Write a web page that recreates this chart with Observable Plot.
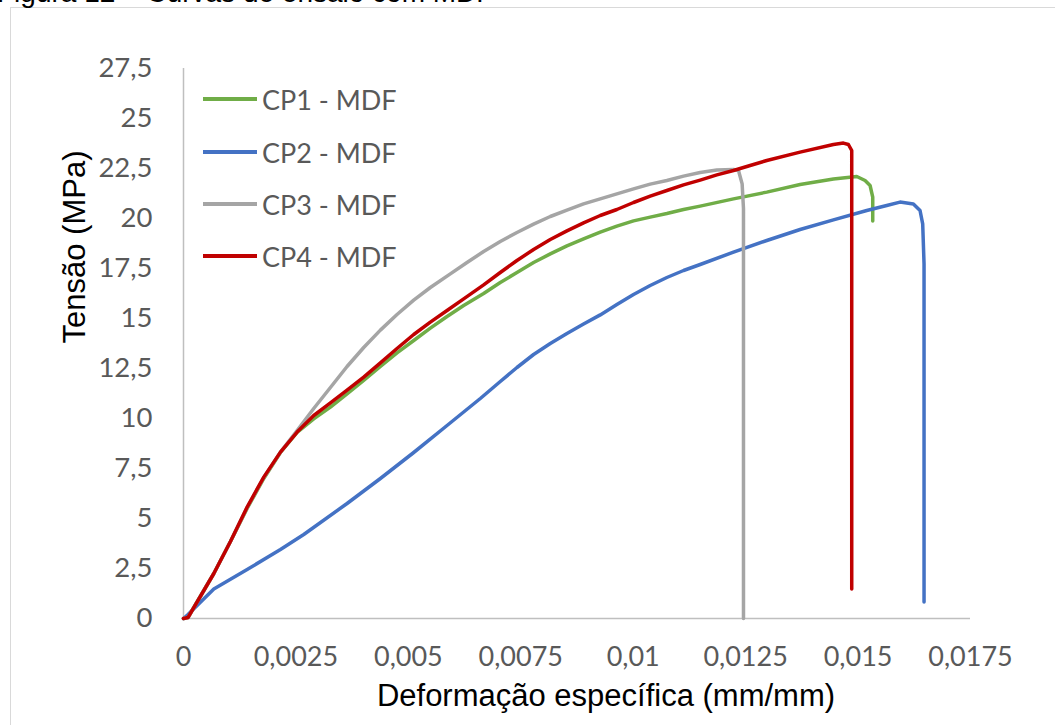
<!DOCTYPE html>
<html>
<head>
<meta charset="utf-8">
<script src="https://cdn.jsdelivr.net/npm/d3@7"></script>
<script src="https://cdn.jsdelivr.net/npm/@observablehq/plot@0.6"></script>
<style>
  html, body { margin: 0; padding: 0; background: #fff; }
  #wrap { position: relative; width: 1055px; height: 725px; overflow: hidden; background: #fff; }
  #title { position: absolute; left: -3px; top: -21px; font-family: "Liberation Sans", Arial, sans-serif; font-size: 28px; line-height: 28px; color: #000; white-space: nowrap; }
  #border { position: absolute; left: 10px; top: 7px; width: 1100px; height: 800px; border: 1.5px solid #d9d9d9; box-sizing: border-box; }
  #chart { position: absolute; left: 0; top: 0; }
  #legend { position: absolute; left: 203px; top: 0; font-family: Lato, "Open Sans", sans-serif; font-size: 27px; color: #595959; }
  .item { position: absolute; left: 0; display: flex; align-items: center; white-space: nowrap; height: 30px; }
  .swatch { width: 54px; height: 3.5px; margin-right: 5px; }
</style>
</head>
<body>
<div id="wrap">
  <div id="border"></div>
  <div id="title">Figura 12 – Curvas de ensaio com MDF</div>
  <div id="chart"></div>
  <div id="legend"></div>
</div>
<script>
// ---- Data ----
const seriesNames = ["CP1 - MDF", "CP2 - MDF", "CP3 - MDF", "CP4 - MDF"];
const seriesColors = ["#70ad47", "#4472c4", "#a5a5a5", "#c00000"];

const xTicks = [0, 0.0025, 0.005, 0.0075, 0.01, 0.0125, 0.015, 0.0175];
const yTicks = [0, 2.5, 5, 7.5, 10, 12.5, 15, 17.5, 20, 22.5, 25, 27.5];

// CP1 - MDF (green)
const cp1Strain = [0, 0.0001, 0.000674, 0.001044, 0.001415, 0.001785, 0.002156, 0.002526, 0.002896, 0.003267, 0.003637, 0.004007, 0.004378, 0.004748, 0.005119, 0.005489, 0.00586, 0.00623, 0.006674, 0.007044, 0.007415, 0.007785, 0.008156, 0.008526, 0.008896, 0.009267, 0.009637, 0.010007, 0.010378, 0.010748, 0.011119, 0.011489, 0.01223, 0.01297, 0.013711, 0.014452, 0.014971, 0.015156, 0.015267, 0.015326, 0.015326];
const cp1Stress = [0, 0.05, 2.25, 3.85, 5.5, 7.0, 8.3, 9.3, 9.98, 10.57, 11.23, 11.9, 12.6, 13.28, 13.9, 14.52, 15.1, 15.65, 16.25, 16.8, 17.3, 17.8, 18.23, 18.63, 18.98, 19.32, 19.62, 19.88, 20.07, 20.25, 20.45, 20.62, 20.98, 21.32, 21.7, 21.98, 22.1, 21.9, 21.65, 21.07, 19.87];

// CP2 - MDF (blue)
const cp2Strain = [0, 0.0001, 0.000674, 0.001415, 0.002156, 0.002674, 0.003637, 0.004378, 0.005119, 0.00586, 0.0066, 0.007044, 0.007415, 0.007785, 0.008156, 0.008526, 0.008896, 0.009267, 0.009637, 0.010007, 0.010378, 0.010748, 0.011119, 0.011489, 0.01223, 0.01297, 0.013711, 0.014452, 0.015193, 0.015637, 0.015933, 0.01623, 0.016378, 0.016437, 0.016467, 0.016467];
const cp2Stress = [0, 0.2, 1.48, 2.45, 3.45, 4.2, 5.75, 7.0, 8.3, 9.65, 11.0, 11.85, 12.55, 13.2, 13.75, 14.25, 14.72, 15.18, 15.7, 16.2, 16.65, 17.05, 17.4, 17.7, 18.32, 18.9, 19.45, 19.93, 20.4, 20.65, 20.82, 20.73, 20.4, 19.73, 17.73, 0.82];

// CP3 - MDF (gray)
const cp3Strain = [0, 0.0001, 0.000674, 0.001044, 0.001415, 0.001785, 0.002156, 0.002526, 0.002896, 0.003267, 0.003637, 0.004007, 0.004378, 0.004748, 0.005119, 0.005489, 0.005933, 0.006304, 0.006674, 0.007044, 0.007415, 0.007785, 0.008156, 0.008526, 0.008896, 0.009267, 0.009637, 0.010007, 0.010378, 0.010748, 0.011119, 0.011489, 0.01186, 0.01223, 0.012341, 0.012422, 0.012452, 0.012452];
const cp3Stress = [0, 0.05, 2.25, 3.85, 5.55, 7.05, 8.32, 9.4, 10.5, 11.55, 12.6, 13.55, 14.42, 15.2, 15.92, 16.55, 17.23, 17.8, 18.35, 18.85, 19.3, 19.72, 20.1, 20.42, 20.73, 20.98, 21.23, 21.48, 21.72, 21.9, 22.12, 22.3, 22.42, 22.45, 22.4, 21.73, 20.5, 0];

// CP4 - MDF (red)
const cp4Strain = [0, 0.0001, 0.000674, 0.001044, 0.001415, 0.001785, 0.002156, 0.002526, 0.002896, 0.003267, 0.003637, 0.004007, 0.004378, 0.004748, 0.005119, 0.005489, 0.00586, 0.00623, 0.006674, 0.007044, 0.007415, 0.007785, 0.008156, 0.008526, 0.008896, 0.009267, 0.009637, 0.010007, 0.010378, 0.010748, 0.011119, 0.011489, 0.01186, 0.01223, 0.0126, 0.01297, 0.013711, 0.014452, 0.014674, 0.014785, 0.014859, 0.014859];
const cp4Stress = [0, 0.05, 2.25, 3.85, 5.57, 7.07, 8.32, 9.32, 10.15, 10.78, 11.42, 12.07, 12.78, 13.5, 14.2, 14.82, 15.4, 15.98, 16.68, 17.3, 17.9, 18.45, 18.95, 19.38, 19.78, 20.15, 20.45, 20.8, 21.12, 21.4, 21.68, 21.92, 22.18, 22.4, 22.65, 22.9, 23.32, 23.7, 23.77, 23.7, 23.4, 1.48];

// ---- Build long table ----
const strains = [cp1Strain, cp2Strain, cp3Strain, cp4Strain];
const stresses = [cp1Stress, cp2Stress, cp3Stress, cp4Stress];
const rows = [];
seriesNames.forEach((name, i) => {
  strains[i].forEach((x, j) => rows.push({series: name, x, y: stresses[i][j]}));
});

const fmt = d => String(d).replace(".", ",");
const tickFont = "Lato, 'Open Sans', sans-serif";
const labelFont = "'Liberation Sans', Arial, sans-serif";

const chart = Plot.plot({
  width: 1055,
  height: 725,
  marginLeft: 183,
  marginRight: 85,
  marginTop: 68,
  marginBottom: 107,
  style: {background: "transparent", overflow: "visible"},
  x: {domain: [0, 0.0175]},
  y: {domain: [0, 27.5]},
  color: {domain: seriesNames, range: seriesColors},
  marks: [
    Plot.ruleX([0], {stroke: "#bfbfbf", strokeWidth: 1.5}),
    Plot.ruleY([0], {stroke: "#bfbfbf", strokeWidth: 1.5}),
    Plot.axisX({ticks: xTicks, tickFormat: fmt, tickSize: 0, tickPadding: 28, label: null,
      fontSize: 27, fontFamily: tickFont, fill: "#595959"}),
    Plot.axisY({ticks: yTicks, tickFormat: fmt, tickSize: 0, tickPadding: 31, label: null,
      fontSize: 27.5, fontFamily: tickFont, fill: "#595959"}),
    Plot.line(rows, {x: "x", y: "y", z: "series", stroke: "series", strokeWidth: 3.5,
      strokeLinejoin: "round", strokeLinecap: "round", curve: "linear"}),
    Plot.text(["Deformação específica (mm/mm)"], {frameAnchor: "bottom", dy: 87, dx: 29,
      fontSize: 31, fontFamily: labelFont, fill: "#000"}),
    Plot.text(["Tensão (MPa)"], {frameAnchor: "left", dx: -108, rotate: -90,
      fontSize: 31, fontFamily: labelFont, fill: "#000"})
  ]
});
document.getElementById("chart").appendChild(chart);

// ---- Legend ----
const legendRowsY = [99, 152, 204, 256];
const legend = document.getElementById("legend");
seriesNames.forEach((name, i) => {
  const item = document.createElement("div");
  item.className = "item";
  item.style.top = (legendRowsY[i] - 15) + "px";
  const sw = document.createElement("div");
  sw.className = "swatch";
  sw.style.background = seriesColors[i];
  const t = document.createElement("span");
  t.textContent = name;
  item.appendChild(sw);
  item.appendChild(t);
  legend.appendChild(item);
});
</script>
</body>
</html>
